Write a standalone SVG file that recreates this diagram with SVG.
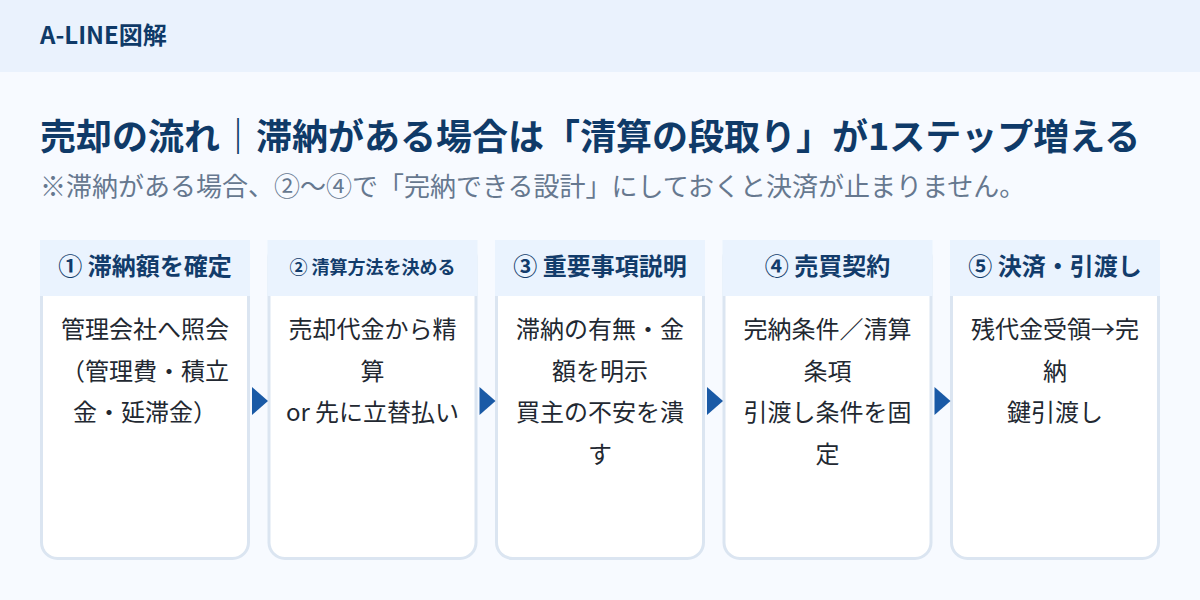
<svg xmlns="http://www.w3.org/2000/svg" width="1200" height="600" viewBox="0 0 1200 600">
<defs>
<style>
.jp{font-family:"Noto Sans CJK JP","Noto Sans",sans-serif;}
.brand{font-size:24px;font-weight:700;fill:#0f3a68;}
.title{font-size:36px;font-weight:700;fill:#0f3a68;}
.sub{font-size:26px;fill:#66788f;}
.card{fill:#ffffff;stroke:#dbe5f1;stroke-width:3;}
.hdr{fill:#eaf3fe;}
.htxt{font-size:24px;font-weight:700;fill:#123c6b;text-anchor:middle;}
.btxt{font-size:24px;fill:#222831;text-anchor:middle;}
.arr{fill:#1a5aa6;}
</style>
</defs>
<rect x="0" y="0" width="1200" height="600" fill="#f7faff"/>
<rect x="0" y="0" width="1200" height="72" fill="#eaf2fd"/>
<text class="jp brand" x="40" y="44">A-LINE図解</text>
<text class="jp title" x="40" y="150">売却の流れ｜滞納がある場合は「清算の段取り」が1ステップ増える</text>
<text class="jp sub" x="40" y="196">※滞納がある場合、②〜④で「完納できる設計」にしておくと決済が止まりません。</text>

<g id="step1">
<rect class="card" x="41.5" y="241.5" width="207" height="317" rx="16"/>
<rect class="hdr" x="40" y="240" width="210" height="56"/>
<text class="jp htxt" x="145" y="275">① 滞納額を確定</text>
<text class="jp btxt" x="145" y="338">管理会社へ照会</text>
<text class="jp btxt" x="145" y="380">（管理費・積立</text>
<text class="jp btxt" x="145" y="421">金・延滞金）</text>
</g>
<g id="step2">
<rect class="card" x="269" y="241.5" width="207" height="317" rx="16"/>
<rect class="hdr" x="267.5" y="240" width="210" height="56"/>
<text class="jp htxt" x="372.5" y="274" style="font-size:18px">② 清算方法を決める</text>
<text class="jp btxt" x="372.5" y="338">売却代金から精</text>
<text class="jp btxt" x="372.5" y="380">算</text>
<text class="jp btxt" x="372.5" y="421">or 先に立替払い</text>
</g>
<g id="step3">
<rect class="card" x="496.5" y="241.5" width="207" height="317" rx="16"/>
<rect class="hdr" x="495" y="240" width="210" height="56"/>
<text class="jp htxt" x="600" y="275">③ 重要事項説明</text>
<text class="jp btxt" x="600" y="338">滞納の有無・金</text>
<text class="jp btxt" x="600" y="380">額を明示</text>
<text class="jp btxt" x="600" y="421">買主の不安を潰</text>
<text class="jp btxt" x="600" y="463">す</text>
</g>
<g id="step4">
<rect class="card" x="724" y="241.5" width="207" height="317" rx="16"/>
<rect class="hdr" x="722.5" y="240" width="210" height="56"/>
<text class="jp htxt" x="827.5" y="275">④ 売買契約</text>
<text class="jp btxt" x="827.5" y="338">完納条件／清算</text>
<text class="jp btxt" x="827.5" y="380">条項</text>
<text class="jp btxt" x="827.5" y="421">引渡し条件を固</text>
<text class="jp btxt" x="827.5" y="463">定</text>
</g>
<g id="step5">
<rect class="card" x="951.5" y="241.5" width="207" height="317" rx="16"/>
<rect class="hdr" x="950" y="240" width="210" height="56"/>
<text class="jp htxt" x="1055" y="275">⑤ 決済・引渡し</text>
<text class="jp btxt" x="1055" y="338">残代金受領→完</text>
<text class="jp btxt" x="1055" y="380">納</text>
<text class="jp btxt" x="1055" y="421">鍵引渡し</text>
</g>
<g id="connectors">
<polygon class="arr" points="252,387 268,401 252,415"/>
<polygon class="arr" points="479.5,387 495.5,401 479.5,415"/>
<polygon class="arr" points="707,387 723,401 707,415"/>
<polygon class="arr" points="934.5,387 950.5,401 934.5,415"/>
</g>
</svg>
